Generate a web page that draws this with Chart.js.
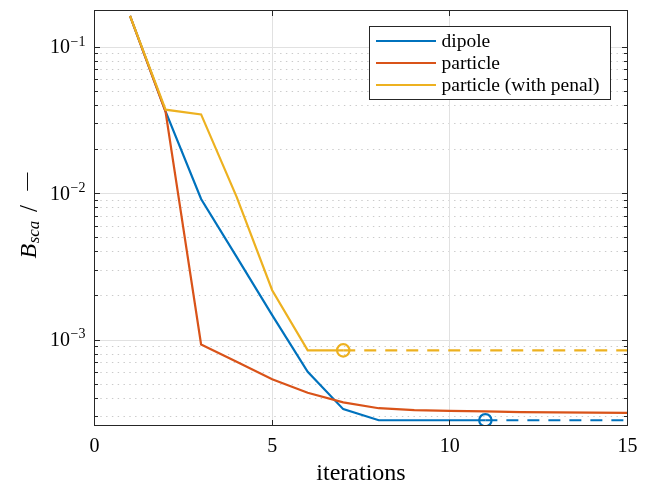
<!DOCTYPE html>
<html>
<head>
<meta charset="utf-8">
<script src="https://cdn.jsdelivr.net/npm/chart.js@4/dist/chart.umd.min.js"></script>
<style>
  html, body { margin: 0; padding: 0; background: #fff; }
  canvas { display: block; }
</style>
</head>
<body>
<canvas id="c" width="646" height="484"></canvas>
<script>
// Convergence history of the scattering objective per iteration
const iterations = [1, 2, 3, 4, 5, 6, 7, 8, 9, 10, 11, 12, 13, 14, 15];
const dipole = [0.164, 0.0365, 0.0092, 0.0037, 0.00148, 0.000606, 0.000337, 0.000283, 0.000283, 0.000283, 0.000283, 0.000283, 0.000283, 0.000283, 0.000283];
const particle = [0.164, 0.0362, 0.000933, 0.00071, 0.00054, 0.000436, 0.000375, 0.000342, 0.000332, 0.000328, 0.000325, 0.000322, 0.00032, 0.000319, 0.000318];
const particlePenal = [0.164, 0.0375, 0.0348, 0.0095, 0.00219, 0.00085, 0.00085, 0.00085, 0.00085, 0.00085, 0.00085, 0.00085, 0.00085, 0.00085, 0.00085];

// iteration at which each run stopped improving (marked with a circle)
const dipoleStop = 11;
const penalStop = 7;

const seriesNames = ['dipole', 'particle', 'particle (with penal)'];
const xTickValues = [0, 5, 10, 15];
const yDecadeExponents = [-1, -2, -3];
const xTitle = 'iterations';

const BLUE = '#0072BD', RED = '#D95319', YELLOW = '#EDB120';
const INK = '#262626';
const SERIF = '"Liberation Serif", "Times New Roman", serif';

function points(values, from, to) {
  return iterations
    .map((x, i) => ({ x: x, y: values[i] }))
    .filter(p => p.x >= from && p.x <= to);
}

const lineBase = { borderWidth: 2.2, pointRadius: 0, tension: 0, fill: false, borderCapStyle: 'butt', borderJoinStyle: 'miter' };
const tailDash = [12, 9];

const datasets = [
  Object.assign({ label: seriesNames[0], data: points(dipole, 1, dipoleStop), borderColor: BLUE, order: 3 }, lineBase),
  Object.assign({ label: seriesNames[1], data: points(particle, 1, 15), borderColor: RED, order: 2 }, lineBase),
  Object.assign({ label: seriesNames[2], data: points(particlePenal, 1, penalStop), borderColor: YELLOW, order: 1 }, lineBase),
  Object.assign({ label: '', data: points(dipole, dipoleStop, 15), borderColor: BLUE, borderDash: tailDash, order: 3 }, lineBase),
  Object.assign({ label: '', data: points(particlePenal, penalStop, 15), borderColor: YELLOW, borderDash: tailDash, order: 1 }, lineBase),
  { label: '', data: points(dipole, dipoleStop, dipoleStop), showLine: false, pointRadius: 6.2, pointBorderWidth: 2.2,
    pointBorderColor: BLUE, pointBackgroundColor: 'rgba(0,0,0,0)', order: 0 },
  { label: '', data: points(particlePenal, penalStop, penalStop), showLine: false, pointRadius: 6.2, pointBorderWidth: 2.2,
    pointBorderColor: YELLOW, pointBackgroundColor: 'rgba(0,0,0,0)', order: 0 }
];

const legendEntries = [0, 1, 2];

function crisp(v) { return Math.floor(v) + 0.5; }

const axesPlugin = {
  id: 'boxedAxes',
  beforeDatasetsDraw(chart) {
    const ctx = chart.ctx;
    const { left, right, top, bottom } = chart.chartArea;
    const xs = chart.scales.x, ys = chart.scales.y;
    ctx.save();
    ctx.beginPath();
    ctx.rect(left, top, right - left, bottom - top);
    ctx.clip();
    ctx.lineWidth = 1;
    // minor dotted grid
    const lo = Math.floor(Math.log10(ys.min)), hi = Math.ceil(Math.log10(ys.max));
    for (let e = lo; e <= hi; e++) {
      for (let m = 2; m <= 9; m++) {
        const v = m * Math.pow(10, e);
        if (v <= ys.min || v >= ys.max) continue;
        const y = crisp(ys.getPixelForValue(v));
        ctx.strokeStyle = '#cacaca';
        ctx.setLineDash([1.4, 4.4]);
        ctx.beginPath(); ctx.moveTo(left, y); ctx.lineTo(right, y); ctx.stroke();
      }
    }
    ctx.setLineDash([]);
    ctx.strokeStyle = '#e1e1e1';
    yDecadeExponents.forEach(e => {
      const y = crisp(ys.getPixelForValue(Math.pow(10, e)));
      ctx.beginPath(); ctx.moveTo(left, y); ctx.lineTo(right, y); ctx.stroke();
    });
    xTickValues.forEach(v => {
      const x = crisp(xs.getPixelForValue(v));
      ctx.beginPath(); ctx.moveTo(x, top); ctx.lineTo(x, bottom); ctx.stroke();
    });
    ctx.restore();
  },
  afterDatasetsDraw(chart) {
    const ctx = chart.ctx;
    const { left, right, top, bottom } = chart.chartArea;
    const xs = chart.scales.x, ys = chart.scales.y;
    ctx.save();
    ctx.strokeStyle = INK;
    ctx.lineWidth = 1;
    // ticks (inward, all four sides)
    const lo = Math.floor(Math.log10(ys.min)), hi = Math.ceil(Math.log10(ys.max));
    for (let e = lo; e <= hi; e++) {
      for (let m = 1; m <= 9; m++) {
        const v = m * Math.pow(10, e);
        if (v <= ys.min || v >= ys.max) continue;
        const y = crisp(ys.getPixelForValue(v));
        const len = m === 1 ? 5.5 : 3.5;
        ctx.beginPath();
        ctx.moveTo(left, y); ctx.lineTo(left + len, y);
        ctx.moveTo(right, y); ctx.lineTo(right - len, y);
        ctx.stroke();
      }
    }
    xTickValues.forEach(v => {
      const x = crisp(xs.getPixelForValue(v));
      ctx.beginPath();
      ctx.moveTo(x, bottom); ctx.lineTo(x, bottom - 5.5);
      ctx.moveTo(x, top); ctx.lineTo(x, top + 5.5);
      ctx.stroke();
    });
    // frame
    ctx.strokeRect(left, top, right - left, bottom - top);

    // x tick labels
    ctx.fillStyle = '#000';
    ctx.font = '20px ' + SERIF;
    ctx.textAlign = 'center';
    ctx.textBaseline = 'alphabetic';
    xTickValues.forEach(v => {
      ctx.fillText(String(v), xs.getPixelForValue(v), bottom + 26.5);
    });
    // x title
    ctx.font = '24px ' + SERIF;
    ctx.fillText(xTitle, (left + right) / 2, 480);

    // y tick labels: 10^e
    yDecadeExponents.forEach(e => {
      const y = ys.getPixelForValue(Math.pow(10, e));
      const sup = '\u2212' + String(-e);
      ctx.font = '14px ' + SERIF;
      const supW = ctx.measureText(sup).width;
      const supRight = left - 9;
      ctx.textAlign = 'left';
      ctx.fillText(sup, supRight - supW, y - 1.6);
      ctx.font = '20px ' + SERIF;
      ctx.textAlign = 'right';
      ctx.fillText('10', supRight - supW - 0.5, y + 6);
    });

    // y title: B_sca / —
    ctx.save();
    ctx.translate(35.5, (top + bottom) / 2);
    ctx.rotate(-Math.PI / 2);
    ctx.textAlign = 'left';
    ctx.font = 'italic 24px ' + SERIF;
    ctx.fillText('B', -40.5, 0);
    const bW = ctx.measureText('B').width;
    ctx.font = 'italic 17px ' + SERIF;
    ctx.fillText('sca', -40.5 + bW + 0.5, 3.5);
    ctx.font = '25px ' + SERIF;
    ctx.fillText('/', 6, 1);
    ctx.font = '18px ' + SERIF;
    ctx.fillText('\u2014', 27.5, -3.5);
    ctx.restore();

    // legend
    const bx = 369.5, by = 26.5, bw = 241, bh = 73;
    ctx.fillStyle = '#fff';
    ctx.fillRect(bx, by, bw, bh);
    ctx.strokeStyle = INK;
    ctx.lineWidth = 1;
    ctx.strokeRect(bx, by, bw, bh);
    ctx.font = '19.5px ' + SERIF;
    ctx.textAlign = 'left';
    ctx.textBaseline = 'alphabetic';
    legendEntries.forEach((di, k) => {
      const ds = chart.data.datasets[di];
      const ry = 41 + k * 22;
      ctx.strokeStyle = ds.borderColor;
      ctx.lineWidth = 2.2;
      ctx.beginPath(); ctx.moveTo(376, ry); ctx.lineTo(436, ry); ctx.stroke();
      ctx.fillStyle = '#000';
      ctx.fillText(ds.label, 441.5, ry + 5.5);
    });
    ctx.restore();
  }
};

new Chart(document.getElementById('c'), {
  type: 'line',
  data: { datasets: datasets },
  options: {
    responsive: false,
    animation: false,
    events: [],
    layout: { padding: { left: 94.5, top: 10.5, right: 18.5, bottom: 58.5 } },
    plugins: { legend: { display: false }, tooltip: { enabled: false } },
    scales: {
      x: { type: 'linear', min: 0, max: 15, display: false },
      y: { type: 'logarithmic', min: 2.606e-4, max: 0.1784, display: false }
    }
  },
  plugins: [axesPlugin]
});
</script>
</body>
</html>
